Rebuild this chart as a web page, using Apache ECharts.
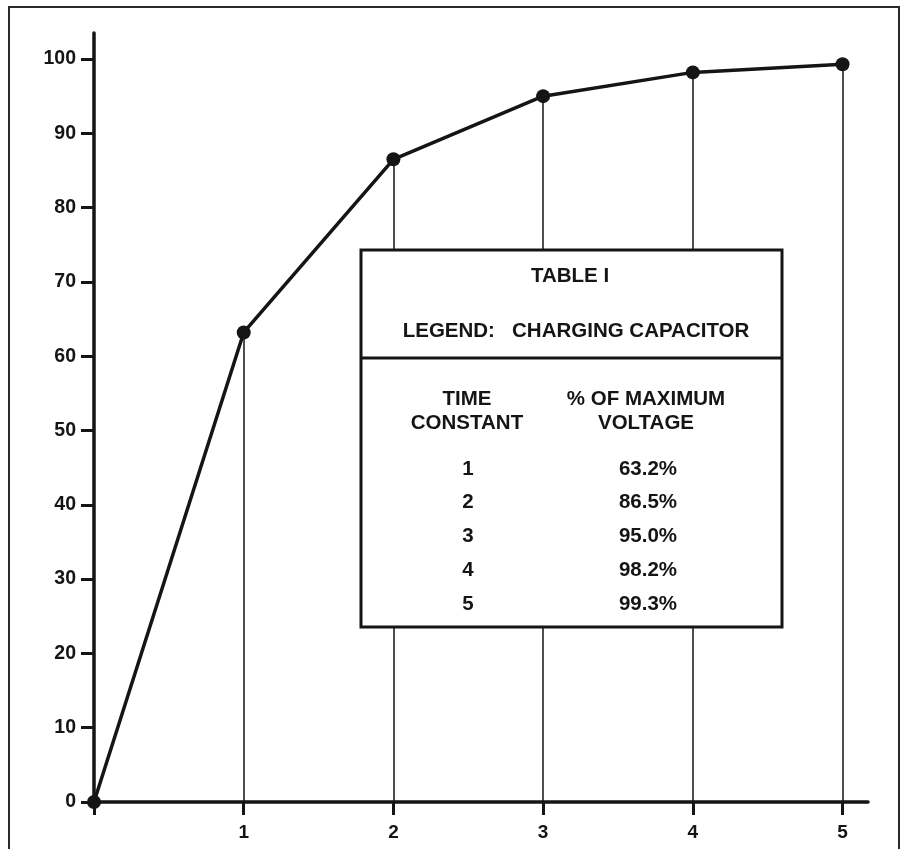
<!DOCTYPE html>
<html>
<head>
<meta charset="utf-8">
<script src="https://cdn.jsdelivr.net/npm/echarts@6/dist/echarts.min.js"></script>
<style>
  html, body { margin: 0; padding: 0; background: #fff; }
  #chart { width: 903px; height: 849px; }
</style>
</head>
<body>
<div id="chart"></div>
<script>
// ---- data ----
const timeConstants = [0, 1, 2, 3, 4, 5];
const voltagePct = [0, 63.2, 86.5, 95.0, 98.2, 99.3];
const yTicks = [0, 10, 20, 30, 40, 50, 60, 70, 80, 90, 100];
const xTicks = [0, 1, 2, 3, 4, 5];
const xLabels = [1, 2, 3, 4, 5];
const tableTitle = 'TABLE I';
const tableLegend = 'LEGEND:   CHARGING CAPACITOR';
const colHeads = [['TIME', 'CONSTANT'], ['% OF MAXIMUM', 'VOLTAGE']];

const INK = '#151515';
const FONT = '"Liberation Sans", Arial, Helvetica, sans-serif';

const chart = echarts.init(document.getElementById('chart'));

// drop lines from each point down to the axis
const dropLines = timeConstants.slice(1).map((t, i) => [
    { coord: [t, 0] },
    { coord: [t, voltagePct[i + 1]] }
]);

// table overlay (white box covers the drop lines)
const txt = (text, x, y) => ({
    type: 'text', x, y, z: 102,
    style: { text, fill: INK, fontSize: 20.5, fontWeight: 'bold', fontFamily: FONT, align: 'center', verticalAlign: 'middle' }
});
const tableEls = [
    { type: 'rect', z: 100, shape: { x: 361, y: 250, width: 421, height: 377 },
      style: { fill: '#fff', stroke: INK, lineWidth: 3 } },
    { type: 'line', z: 101, shape: { x1: 361, y1: 358, x2: 782, y2: 358 },
      style: { stroke: INK, lineWidth: 3 } },
    txt(tableTitle, 570, 276),
    txt(tableLegend, 576, 331),
    txt(colHeads[0][0], 467, 399), txt(colHeads[0][1], 467, 423),
    txt(colHeads[1][0], 646, 399), txt(colHeads[1][1], 646, 423)
];
timeConstants.slice(1).forEach((t, i) => {
    const y = 469 + i * 33.8;
    tableEls.push(txt(String(t), 468, y));
    tableEls.push(txt(voltagePct[i + 1].toFixed(1) + '%', 648, y));
});

chart.setOption({
    animation: false,
    backgroundColor: '#fff',
    grid: { left: 94, right: 35, top: 33, bottom: 47, containLabel: false, outerBoundsMode: 'none' },
    xAxis: {
        type: 'value', min: 0, max: 5.17,
        axisLine: { show: true, lineStyle: { color: INK, width: 3.5 } },
        axisTick: { show: true, customValues: xTicks, length: 13, lineStyle: { color: INK, width: 3 } },
        axisLabel: { customValues: xLabels, margin: 21, color: INK, fontSize: 19, fontWeight: 'bold', fontFamily: FONT },
        splitLine: { show: false }
    },
    yAxis: {
        type: 'value', min: 0, max: 103.5,
        axisLine: { show: true, lineStyle: { color: INK, width: 3.5 } },
        axisTick: { show: true, customValues: yTicks, length: 13, lineStyle: { color: INK, width: 3 } },
        axisLabel: { customValues: yTicks, margin: 18, color: INK, fontSize: 19.5, fontWeight: 'bold', fontFamily: FONT },
        splitLine: { show: false }
    },
    series: [{
        type: 'line',
        data: timeConstants.map((t, i) => [t, voltagePct[i]]),
        symbol: 'circle', symbolSize: 14,
        lineStyle: { color: INK, width: 3.5 },
        itemStyle: { color: INK },
        z: 5,
        markLine: {
            silent: true, symbol: 'none', z: 3,
            label: { show: false },
            lineStyle: { color: INK, width: 1.5, type: 'solid' },
            data: dropLines
        }
    }],
    graphic: [
        { type: 'rect', z: 99, silent: true, shape: { x: 9, y: 7, width: 890, height: 900 },
          style: { fill: null, stroke: '#2a2a2a', lineWidth: 2 } },
        ...tableEls
    ]
});
</script>
</body>
</html>
